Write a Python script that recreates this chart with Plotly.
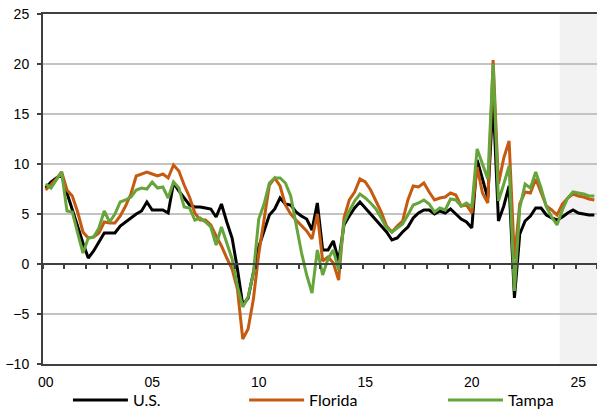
import plotly.graph_objects as go

# Quarterly year-over-year growth (%), 2000Q1 - 2025Q4
YEARS = list(range(2000, 2026))

US = [
    7.6, 8.2, 8.6, 8.9,    7.1, 5.4, 3.8, 2.1,    0.6, 1.3, 2.2, 3.1,    3.1, 3.1, 3.8, 4.2,
    4.6, 5.0, 5.3, 6.2,    5.4, 5.4, 5.4, 5.1,    8.1, 7.3, 6.6, 5.9,    5.7, 5.7, 5.6, 5.5,
    4.7, 6.0, 4.2, 2.6,   -0.5, -4.1, -3.4, -1.0,  1.7, 3.3, 4.9, 5.5,    6.6, 6.0, 5.9, 5.2,
    4.8, 4.5, 3.4, 6.1,    1.4, 1.4, 2.3, 0.3,    3.9, 4.8, 5.6, 6.2,    5.6, 5.0, 4.4, 3.8,
    3.2, 2.4, 2.6, 3.2,    3.7, 4.6, 5.1, 5.4,    5.4, 5.0, 5.3, 5.1,    5.5, 5.0, 4.5, 4.2,
    3.6, 10.4, 8.4, 6.6,   16.5, 4.3, 5.8, 7.8,  -3.4, 3.0, 4.3, 4.8,    5.6, 5.6, 4.9, 4.6,
    4.4, 4.7, 5.1, 5.4,    5.1, 5.0, 4.9, 4.9,
]

FLORIDA = [
    7.4, 7.9, 8.5, 9.2,    7.4, 6.8, 5.2, 3.2,    2.6, 2.7, 3.1, 4.2,    4.1, 4.1, 4.8, 5.8,
    7.0, 8.8, 9.0, 9.2,    9.0, 8.8, 9.0, 8.6,    9.9, 9.3, 7.9, 6.7,    5.1, 4.4, 4.4, 3.9,
    2.8, 1.8, 0.6, -0.5,  -2.5, -7.5, -6.5, -3.5,  1.0, 4.6, 7.9, 8.6,    7.8, 5.9, 5.0, 4.4,
    3.9, 3.3, 2.5, 5.0,    0.3, 0.7, 0.1, -1.6,   4.6, 6.4, 7.2, 8.5,    8.2, 7.4, 6.3, 5.2,
    3.8, 3.2, 3.8, 4.3,    6.4, 7.8, 7.7, 8.1,    7.2, 6.4, 6.6, 6.7,    7.1, 6.9, 5.8, 5.9,
    5.1, 9.7, 7.1, 6.1,    20.4, 8.0, 10.6, 12.3, 0.5, 6.0, 7.2, 7.1,    8.5, 7.1, 5.8, 5.4,
    4.9, 6.0, 6.6, 7.0,    6.8, 6.7, 6.5, 6.4,
]

TAMPA = [
    8.0, 7.6, 8.4, 9.2,    5.3, 5.2, 3.1, 1.1,    2.6, 2.7, 3.6, 5.3,    4.2, 5.0, 6.2, 6.4,
    6.7, 7.4, 7.6, 7.5,    8.2, 7.6, 7.7, 6.6,    8.2, 7.6, 5.7, 5.6,    4.4, 4.6, 4.2, 3.7,
    1.9, 3.7, 2.1, 0.5,   -2.2, -4.3, -3.3, -0.9,  4.5, 6.0, 8.1, 8.6,    8.6, 8.1, 6.8, 3.9,
    1.2, -1.1, -2.9, 1.4, -1.1, 0.5, 1.4, -0.6,   4.1, 5.3, 6.3, 7.0,    6.6, 6.1, 5.5, 4.6,
    3.6, 3.2, 3.6, 4.0,    4.9, 5.9, 6.1, 6.4,    6.0, 5.2, 5.6, 5.4,    6.5, 6.4, 5.8, 6.1,
    5.7, 11.5, 10.0, 8.5,  20.0, 6.3, 8.0, 9.8,  -2.7, 5.6, 8.0, 7.6,    9.2, 7.6, 5.7, 4.7,
    3.9, 5.4, 6.6, 7.2,    7.1, 7.0, 6.8, 6.8,
]

TICK_YEARS = [2000, 2005, 2010, 2015, 2020, 2025]
TICK_LABELS = ["00", "05", "10", "15", "20", "25"]
Y_TICKS = [-10, -5, 0, 5, 10, 15, 20, 25]
Y_RANGE = [-10, 25]
X_RANGE = [2000, 2026]
FORECAST_START = 2024.25

# name, values, colour, legend slot, legend left edge (fraction of plot width)
SERIES = [
    ("U.S.", US, "#000000", "legend", 0.045),
    ("Florida", FLORIDA, "#c55a11", "legend2", 0.363),
    ("Tampa", TAMPA, "#66a43c", "legend3", 0.722),
]

# each quarter is plotted at the middle of its slot on the year axis
x = [yr + (q + 0.5) / 4 for yr in YEARS for q in range(4)]

WIDTH, HEIGHT = 597, 417
MARGIN = dict(l=43, r=0, t=14, b=53)
plot_h = HEIGHT - MARGIN["t"] - MARGIN["b"]
legend_y = -MARGIN["b"] / plot_h  # bottom edge of the page

AXIS_COLOR = "#404040"
GRID_COLOR = "#c3c3c3"
TICK_FONT = dict(family="Liberation Sans, Arial, sans-serif", size=14, color="#000000")
LEGEND_FONT = dict(family="Lato, Open Sans, sans-serif", size=16, color="#000000")

fig = go.Figure()
legends = {}
for name, vals, color, slot, lx in SERIES:
    fig.add_trace(go.Scatter(
        x=x, y=vals, name=name, mode="lines", legend=slot,
        line=dict(color=color, width=3),
        hoverinfo="x+y+name",
    ))
    legends[slot] = dict(
        orientation="h", x=lx, xanchor="left", y=legend_y, yanchor="bottom",
        font=LEGEND_FONT, itemwidth=55, bgcolor="rgba(0,0,0,0)",
    )

# carrier for the axis that runs along zero with the yearly ticks
fig.add_trace(go.Scatter(x=[X_RANGE[0]], y=[None], xaxis="x2", yaxis="y",
                         mode="lines", showlegend=False, hoverinfo="skip"))

# forecast period shading
fig.add_vrect(x0=FORECAST_START, x1=X_RANGE[1], fillcolor="#f2f2f2",
              line_width=0, layer="below")

zero_pos = (0 - Y_RANGE[0]) / (Y_RANGE[1] - Y_RANGE[0])

fig.update_layout(
    width=WIDTH, height=HEIGHT, autosize=False,
    margin=MARGIN,
    paper_bgcolor="#ffffff", plot_bgcolor="#ffffff",
    showlegend=True,
    **legends,
    xaxis=dict(
        range=X_RANGE,
        tickvals=[t + 0.125 for t in TICK_YEARS],
        ticktext=TICK_LABELS,
        ticks="", showgrid=False, zeroline=False,
        showline=True, linecolor=AXIS_COLOR, linewidth=2, mirror=True,
        tickfont=TICK_FONT, ticklabelstandoff=4,
    ),
    xaxis2=dict(
        range=X_RANGE, overlaying="x", anchor="free", position=zero_pos,
        side="bottom", showline=True, linecolor=AXIS_COLOR, linewidth=2,
        ticks="outside", ticklen=4, tickwidth=1.5, tickcolor=AXIS_COLOR,
        tick0=2000, dtick=1, showticklabels=False, showgrid=False, zeroline=False,
    ),
    yaxis=dict(
        range=Y_RANGE, tickvals=Y_TICKS,
        showgrid=True, gridcolor=GRID_COLOR, gridwidth=1.5, zeroline=False,
        showline=True, linecolor=AXIS_COLOR, linewidth=2,
        ticks="outside", ticklen=4, tickwidth=1.5, tickcolor=AXIS_COLOR,
        tickfont=TICK_FONT, ticklabelstandoff=5,
    ),
)

fig.write_html("out.html")
